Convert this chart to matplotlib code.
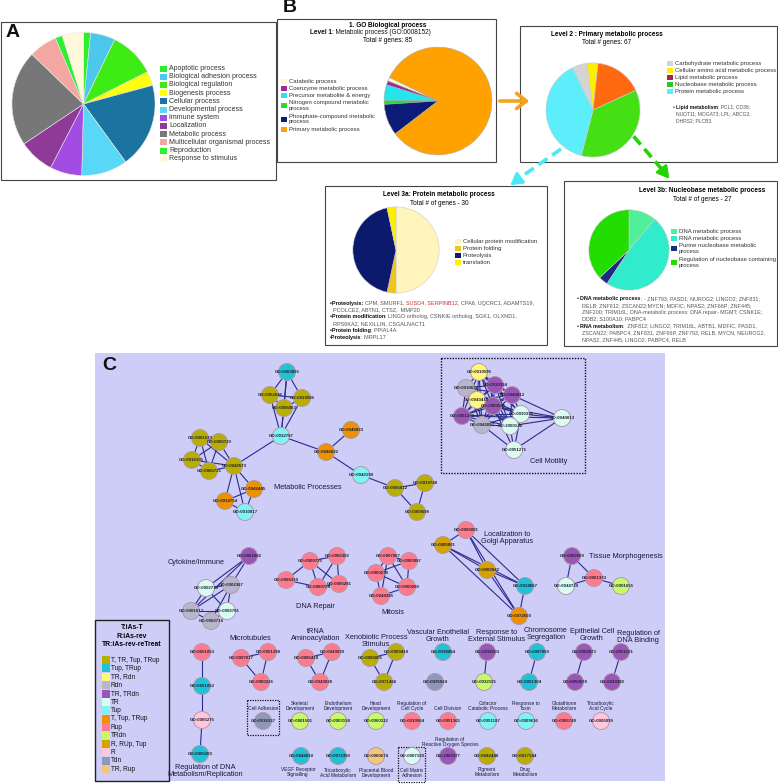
import matplotlib
matplotlib.use("Agg")
import matplotlib.pyplot as plt
from matplotlib.patches import Rectangle

plt.rcParams['font.family'] = ['Liberation Sans', 'DejaVu Sans']

W, H = 778, 784

# ---------------- panel A : GO biological process
bio_labels = ['Apoptotic process', 'Biological adhesion process', 'Biological regulation',
              'Biogenesis process', 'Cellular process', 'Developmental process',
              'Immune system', 'Localization', 'Metabolic process',
              'Multicellular organismal process', 'Reproduction', 'Response to stimulus']
bio_counts = [2, 7, 13, 4, 24, 13, 9, 10, 27, 8, 2, 6]
bio_colors = ['#2cf02c', '#4cc8ec', '#3cec14', '#ffff10', '#1b74a0', '#58d8f6',
              '#a24ce4', '#8e3a96', '#777777', '#f4a7a2', '#2cf02c', '#fff8da']

# ---------------- panel B level 1
lvl1_labels = ['Catabolic process', 'Coenzyme metabolic process', 'Precursor metabolite & energy',
               'Nitrogen compound metabolic\nprocess', 'Phosphate-compound metabolic\nprocess',
               'Primary metabolic process']
lvl1_counts = [1, 1, 4, 1, 8, 70]
lvl1_colors = ['#fff8c8', '#9b2a9b', '#22e6ee', '#22dd33', '#0c1a78', '#ffa200']

# level 2
lvl2_labels = ['Carbohydrate metabolic process', 'Cellular amino acid metabolic process',
               'Lipid metabolic process', 'Nucleobase metabolic process', 'Protein metabolic process']
lvl2_counts = [3.5, 2.5, 11, 24, 26]
lvl2_colors = ['#d4d4d4', '#ffee00', '#ff6a10', '#44e014', '#5ceefa']
lvl2_legend_colors = ['#d4d4d4', '#ffee00', '#aa2244', '#22cc22', '#5ceefa']

# level 3a
lvl3a_labels = ['Cellular protein modification', 'Protein folding', 'Proteolysis', 'translation']
lvl3a_counts = [15, 1, 13, 1]
lvl3a_colors = ['#fff5bc', '#f0c418', '#0c1a6e', '#ffee00']

# level 3b
lvl3b_labels = ['DNA metabolic process', 'RNA metabolic process',
                'Purine nucleobase metabolic\nprocess', 'Regulation of nucleobase containing\nprocess']
lvl3b_counts = [3, 13, 1, 10]
lvl3b_colors = ['#50f09a', '#30eccc', '#1c2a80', '#22dd00']

# ---------------- panel C : network
legend_groups = ['T, TR, Tup, TRup', 'Tup, TRup', 'TR, Rdn', 'Rdn', 'TR, TRdn', 'TR', 'Tup',
                 'T, Tup, TRup', 'Rup', 'TRdn', 'R, RUp, Tup', 'R', 'Tdn', 'TR, Rup']
group_colors = ['#b8ae00', '#1fc2d6', '#fff67a', '#b6b6cc', '#9a55b8', '#d8fcf4', '#80f4f4',
                '#ec9100', '#ff7a8c', '#c6fa6a', '#d6a200', '#ffc6dc', '#8e98b8', '#f2c67e']

# (GO id, layout x, layout y, group)
nodes_metabolic = [
    ('GO:0003896', 287, 372, 1), ('GO:0052646', 270, 395, 0), ('GO:0019585', 302, 398, 0),
    ('GO:0006063', 284, 408, 0), ('GO:0032787', 281, 436, 6), ('GO:0045833', 351, 430, 7),
    ('GO:0046822', 326, 452, 7), ('GO:0042180', 361, 475, 6), ('GO:0006812', 395, 488, 0),
    ('GO:0019748', 425, 483, 0), ('GO:0009698', 417, 512, 0), ('GO:0001523', 200, 438, 0),
    ('GO:0006720', 219, 442, 0), ('GO:0016101', 192, 460, 0), ('GO:0006721', 209, 471, 0),
    ('GO:0042573', 234, 466, 0), ('GO:0042445', 254, 489, 7), ('GO:0034754', 225, 501, 7),
    ('GO:0010817', 245, 512, 6)]
nodes_motility = [
    ('GO:0010595', 479, 372, 2), ('GO:0010632', 466, 388, 3), ('GO:0030334', 495, 385, 4),
    ('GO:0040012', 512, 395, 4), ('GO:0043410', 477, 400, 2), ('GO:2000145', 493, 406, 4),
    ('GO:0030336', 521, 414, 5), ('GO:0040013', 562, 418, 5), ('GO:0051270', 462, 416, 4),
    ('GO:0043087', 482, 425, 3), ('GO:2000146', 510, 426, 5), ('GO:0051271', 514, 450, 5)]
nodes_other = [
    ('GO:0061082', 249, 556, 4), ('GO:0002367', 231, 585, 3), ('GO:0002719', 206, 588, 5),
    ('GO:0001817', 191, 611, 3), ('GO:0002701', 227, 611, 5), ('GO:0002718', 211, 621, 3),
    ('GO:0000725', 310, 561, 8), ('GO:0006302', 337, 556, 8), ('GO:0006310', 286, 580, 8),
    ('GO:0000724', 318, 587, 8), ('GO:0006281', 339, 584, 8),
    ('GO:0007067', 388, 556, 8), ('GO:0000087', 409, 561, 8), ('GO:0000278', 376, 573, 8),
    ('GO:0000280', 407, 587, 8), ('GO:0048285', 381, 596, 8),
    ('GO:0006891', 466, 530, 8), ('GO:0005801', 443, 545, 10), ('GO:0000042', 487, 570, 10),
    ('GO:0034067', 525, 586, 1), ('GO:0072600', 519, 616, 7),
    ('GO:0002009', 572, 556, 4), ('GO:0061333', 594, 578, 8), ('GO:0048729', 566, 586, 5),
    ('GO:0001655', 621, 586, 9),
    ('GO:0051053', 202, 652, 8), ('GO:0051052', 202, 686, 1), ('GO:0006275', 202, 720, 11),
    ('GO:0006260', 200, 754, 1),
    ('GO:0007017', 241, 658, 8), ('GO:0051298', 268, 652, 8), ('GO:0000226', 261, 682, 8),
    ('GO:0006418', 306, 658, 8), ('GO:0043039', 332, 652, 8), ('GO:0043038', 320, 682, 8),
    ('GO:0006805', 370, 658, 0), ('GO:0009410', 396, 652, 0), ('GO:0071466', 384, 682, 0),
    ('GO:0038084', 443, 652, 1), ('GO:0035924', 435, 682, 12),
    ('GO:0032103', 487, 652, 4), ('GO:0032101', 484, 682, 9),
    ('GO:0007059', 537, 652, 1), ('GO:0051304', 529, 682, 1),
    ('GO:0050673', 584, 652, 4), ('GO:0050678', 575, 682, 4),
    ('GO:0051101', 621, 652, 4), ('GO:0043392', 612, 682, 4),
    ('GO:0016337', 263, 721, 12), ('GO:0001501', 300, 721, 9), ('GO:0003158', 338, 721, 9),
    ('GO:0060322', 376, 721, 9), ('GO:0010564', 412, 721, 8), ('GO:0051301', 448, 721, 8),
    ('GO:0051187', 488, 721, 6), ('GO:0009636', 526, 721, 6), ('GO:0006749', 564, 721, 8),
    ('GO:0006099', 601, 721, 11),
    ('GO:0048010', 301, 756, 1), ('GO:0072350', 338, 756, 1), ('GO:0060674', 376, 756, 13),
    ('GO:0007160', 412, 756, 5), ('GO:2000377', 448, 756, 4), ('GO:0042440', 487, 756, 0),
    ('GO:0017144', 525, 756, 0)]

edges_metabolic = [
    ('GO:0003896', 'GO:0052646'), ('GO:0003896', 'GO:0019585'), ('GO:0003896', 'GO:0006063'),
    ('GO:0003896', 'GO:0032787'), ('GO:0052646', 'GO:0019585'), ('GO:0052646', 'GO:0006063'),
    ('GO:0019585', 'GO:0006063'), ('GO:0052646', 'GO:0032787'), ('GO:0019585', 'GO:0032787'),
    ('GO:0006063', 'GO:0032787'), ('GO:0032787', 'GO:0042573'), ('GO:0032787', 'GO:0046822'),
    ('GO:0046822', 'GO:0045833'), ('GO:0046822', 'GO:0042180'), ('GO:0042180', 'GO:0006812'),
    ('GO:0006812', 'GO:0019748'), ('GO:0006812', 'GO:0009698'), ('GO:0019748', 'GO:0009698'),
    ('GO:0001523', 'GO:0006720'), ('GO:0001523', 'GO:0016101'), ('GO:0001523', 'GO:0006721'),
    ('GO:0001523', 'GO:0042573'), ('GO:0006720', 'GO:0016101'), ('GO:0006720', 'GO:0006721'),
    ('GO:0006720', 'GO:0042573'), ('GO:0016101', 'GO:0006721'), ('GO:0016101', 'GO:0042573'),
    ('GO:0006721', 'GO:0042573'), ('GO:0042573', 'GO:0042445'), ('GO:0042573', 'GO:0034754'),
    ('GO:0042573', 'GO:0010817'), ('GO:0042445', 'GO:0034754'), ('GO:0042445', 'GO:0010817'),
    ('GO:0034754', 'GO:0010817')]
motility_core = ['GO:0010595', 'GO:0010632', 'GO:0030334', 'GO:0040012', 'GO:0043410',
                 'GO:2000145', 'GO:0030336', 'GO:0051270', 'GO:0043087', 'GO:2000146']
edges_motility = [(a, b) for i, a in enumerate(motility_core) for b in motility_core[i + 1:]]
edges_motility += [('GO:0040013', n) for n in ['GO:0040012', 'GO:0030336', 'GO:2000146',
                                              'GO:0051270', 'GO:0051271', 'GO:2000145']]
edges_motility += [('GO:0051271', n) for n in ['GO:2000146', 'GO:0030336', 'GO:0043087',
                                              'GO:2000145']]
edges_other = [
    ('GO:0061082', 'GO:0002367'), ('GO:0061082', 'GO:0001817'), ('GO:0061082', 'GO:0002719'),
    ('GO:0002367', 'GO:0002719'), ('GO:0002367', 'GO:0001817'), ('GO:0002367', 'GO:0002701'),
    ('GO:0002367', 'GO:0002718'), ('GO:0002719', 'GO:0001817'), ('GO:0002719', 'GO:0002701'),
    ('GO:0001817', 'GO:0002701'), ('GO:0001817', 'GO:0002718'), ('GO:0002701', 'GO:0002718'),
    ('GO:0000725', 'GO:0006302'), ('GO:0000725', 'GO:0006310'), ('GO:0000725', 'GO:0000724'),
    ('GO:0000725', 'GO:0006281'), ('GO:0006302', 'GO:0006281'), ('GO:0006302', 'GO:0000724'),
    ('GO:0006310', 'GO:0000724'), ('GO:0000724', 'GO:0006281'),
    ('GO:0007067', 'GO:0000087'), ('GO:0007067', 'GO:0000278'), ('GO:0007067', 'GO:0000280'),
    ('GO:0007067', 'GO:0048285'), ('GO:0000087', 'GO:0000278'), ('GO:0000087', 'GO:0000280'),
    ('GO:0000278', 'GO:0048285'), ('GO:0000280', 'GO:0048285'), ('GO:0000278', 'GO:0000280'),
    ('GO:0006891', 'GO:0005801'), ('GO:0006891', 'GO:0000042'), ('GO:0006891', 'GO:0072600'),
    ('GO:0005801', 'GO:0000042'), ('GO:0005801', 'GO:0034067'), ('GO:0005801', 'GO:0072600'),
    ('GO:0000042', 'GO:0034067'), ('GO:0000042', 'GO:0072600'), ('GO:0034067', 'GO:0072600'),
    ('GO:0006891', 'GO:0034067'),
    ('GO:0002009', 'GO:0061333'), ('GO:0002009', 'GO:0048729'), ('GO:0061333', 'GO:0048729'),
    ('GO:0061333', 'GO:0001655'),
    ('GO:0051053', 'GO:0051052'), ('GO:0051052', 'GO:0006275'), ('GO:0006275', 'GO:0006260'),
    ('GO:0007017', 'GO:0051298'), ('GO:0007017', 'GO:0000226'), ('GO:0051298', 'GO:0000226'),
    ('GO:0006418', 'GO:0043039'), ('GO:0006418', 'GO:0043038'), ('GO:0043039', 'GO:0043038'),
    ('GO:0006805', 'GO:0009410'), ('GO:0006805', 'GO:0071466'), ('GO:0009410', 'GO:0071466'),
    ('GO:0032103', 'GO:0032101'), ('GO:0007059', 'GO:0051304'),
    ('GO:0050673', 'GO:0050678'), ('GO:0051101', 'GO:0043392')]

cluster_labels = [
    ('Metabolic Processes', 308, 487), ('Cell Motility', 549, 461),
    ('Cytokine/Immune', 196, 563), ('DNA Repair', 315, 606), ('Mitosis', 393, 612),
    ('Localization to\nGolgi Apparatus', 507, 538), ('Tissue Morphogenesis', 626, 557),
    ('Microtubules', 250, 639), ('tRNA\nAminoacylation', 316, 635),
    ('Xenobiotic Process\nStimulus', 376, 641), ('Vascular Enothelial\nGrowth', 438, 636),
    ('Response to\nExternal Stimulus', 497, 636), ('Chromosome\nSegregation', 546, 634),
    ('Epithelial Cell\nGrowth', 592, 635), ('Regulation of\nDNA Binding', 638, 637),
    ('Regulation of DNA\nMetabolism/Replication', 205, 771)]
small_labels = [
    ('Cell Adhesion', 263, 708), ('Skeletal\nDevelopment', 300, 706),
    ('Endothelium\nDevelopment', 338, 706), ('Head\nDevelopment', 376, 706),
    ('Regulation of\nCell Cycle', 412, 706), ('Cell Division', 448, 708),
    ('Cofactor\nCatabolic Process', 488, 706), ('Response to\nToxin', 526, 706),
    ('Glutathione\nMetabolism', 564, 706), ('Tricarboxylic\nAcid Cycle', 601, 706),
    ('Regulation of\nReactive Oxygen Species', 450, 742),
    ('VEGF Receptor\nSignalling', 298, 772), ('Tricarboxylic\nAcid Metabolism', 338, 773),
    ('Placental Blood\nDevelopment', 376, 773), ('Cell Matrix\nAdhesion', 412, 773),
    ('Pigment\nMetabolism', 487, 772), ('Drug\nMetabolism', 525, 772)]

fig = plt.figure(figsize=(W / 100, H / 100), dpi=100)
ax = fig.add_axes([0, 0, 1, 1])
ax.set_xlim(0, W)
ax.set_ylim(H, 0)
ax.axis('off')


def box(x0, y0, x1, y1, fc='white', ec='#444444', lw=0.8, ls='-', z=1):
    ax.add_patch(Rectangle((x0, y0), x1 - x0, y1 - y0, facecolor=fc, edgecolor=ec,
                           linewidth=lw, linestyle=ls, zorder=z))


def pie_at(cx, cy, r, values, colors, start, ccw, ec='#bbbbbb'):
    pa = fig.add_axes([(cx - r) / W, 1 - (cy + r) / H, 2 * r / W, 2 * r / H])
    pa.pie(values, colors=colors, startangle=start, counterclock=ccw,
           wedgeprops=dict(edgecolor=ec, linewidth=0.4))
    pa.set_xlim(-1.02, 1.02)
    pa.set_ylim(-1.02, 1.02)
    pa.axis('off')


def legend_list(x, ys, labels, colors, fs, size=6):
    for y, lab, c in zip(ys, labels, colors):
        ax.add_patch(Rectangle((x, y - size / 2), size + 1, size, facecolor=c,
                               edgecolor='none', zorder=3))
        ax.text(x + size + 3, y, lab, fontsize=fs, va='center', ha='left', color='#333333',
                linespacing=1.1, zorder=3)


renderer = fig.canvas.get_renderer()


def rich(x, y, parts, fs):
    for txt, bold, col in parts:
        t = ax.text(x, y, txt, fontsize=fs, va='center', ha='left', color=col,
                    fontweight='bold' if bold else 'normal', zorder=3)
        x += t.get_window_extent(renderer).width


# ---------- panel A
box(1.5, 21.5, 276.5, 180)
ax.text(6, 32, 'A', fontsize=14, fontweight='bold', va='center', color='#111111')
pie_at(83.5, 104, 73, bio_counts, bio_colors, 90, False, ec='#e8e8e8')
legend_list(160, [68.5 + 8.2 * i for i in range(12)], bio_labels, bio_colors, 5.0, size=6)

# ---------- panel B
ax.text(283, 7, 'B', fontsize=14, fontweight='bold', va='center', color='#111111')
box(277, 19, 496, 162)
ax.text(388, 25, '1. GO Biological process', fontsize=4.7, fontweight='bold', ha='center', va='center')
rich(310, 32.5, [('Level 1', True, '#111111'), (': Metabolic process (GO:0008152)', False, '#111111')], 4.7)
ax.text(388, 40, 'Total # genes: 85', fontsize=4.7, ha='center', va='center')
pie_at(438, 101, 55, lvl1_counts, lvl1_colors, 154, True, ec='#aaaaaa')
legend_list(281, [81, 88, 95, 105.5, 119, 129.5], lvl1_labels, lvl1_colors, 4.3, size=5)

box(520, 26, 777, 162)
ax.text(607, 34, 'Level 2 : Primary metabolic process', fontsize=4.7, fontweight='bold', ha='center', va='center')
ax.text(607, 42, 'Total # genes: 67', fontsize=4.7, ha='center', va='center')
pie_at(593, 110, 48, lvl2_counts, lvl2_colors, 116, False, ec='#cccccc')
legend_list(667, [63.5, 70.5, 77.5, 84.5, 91.5], lvl2_labels, lvl2_legend_colors, 4.3, size=5)
rich(673, 107, [('\u2022 ', False, '#000066'), ('Lipid metabolism', True, '#111111'),
                (': PCL1; CD36;', False, '#555555')], 3.6)
ax.text(676, 114, 'NUDT11; MOGAT3; LPL; ABCG2;', fontsize=3.6, color='#555555', va='center')
ax.text(676, 121, 'DHRS2; PLCB3.', fontsize=3.6, color='#555555', va='center')

box(325, 186, 547, 345)
ax.text(439, 194, 'Level 3a: Protein metabolic process', fontsize=4.7, fontweight='bold', ha='center', va='center')
ax.text(439, 203, 'Total # of genes - 30', fontsize=4.7, ha='center', va='center')
pie_at(396, 250, 44, lvl3a_counts, lvl3a_colors, 90, False, ec='#cccccc')
legend_list(455, [241, 248, 255, 262], lvl3a_labels, lvl3a_colors, 4.3, size=5)
g = '#555555'
rich(330, 303, [('\u2022Proteolysis: ', True, '#111111'), ('CPM, SMURF1, ', False, g),
                ('SUSD4, SERPINB12', False, '#d03030'),
                (', CPA6, UQCRC1, ADAMTS19,', False, g)], 4.0)
ax.text(333, 309.5, 'PCOLCE2, ABTN1, CTSZ,  MMP20', fontsize=4.0, color=g, va='center')
rich(330, 316.5, [('\u2022Protein modification', True, '#111111'),
                  (': LINGO ortholog, CSNKIE ortholog, SGK1, OLXND1,', False, g)], 4.0)
ax.text(333, 323.5, 'RPS6KA2, NEXILLIN, CSGALNACT1', fontsize=4.0, color=g, va='center')
rich(330, 330.5, [('\u2022Protein folding', True, '#111111'), (': PPIAL4A', False, g)], 4.0)
rich(330, 337.5, [('\u2022Proteolysis', True, '#111111'), (': MRPL17', False, g)], 4.0)

box(564, 181, 777, 346)
ax.text(702, 190, 'Level 3b: Nucleobase metabolic process', fontsize=4.7, fontweight='bold', ha='center', va='center')
ax.text(702, 199, 'Total # of genes - 27', fontsize=4.7, ha='center', va='center')
pie_at(629, 250, 41, lvl3b_counts, lvl3b_colors, 90, False, ec='#cccccc')
legend_list(671, [231.5, 238.5, 248.5, 262.5], lvl3b_labels, lvl3b_colors, 4.3, size=5)
rich(577, 298.5, [('\u2022 ', False, '#000066'), ('DNA metabolic process', True, '#111111'),
                  (': - ZNF793; PASD1; NUROG2; LINGO2; ZNF831;', False, g)], 3.9)
for yy, line in zip([305.5, 312.5, 319], ['RELB; ZNF812; ZSCAN22;MYCN; MDFIC; NPAS2; ZNF66P; ZNF445;',
                                         'ZNF200; TRIM16L; DNA-metabolic process: DNA repair- MGMT; CSNK1E;',
                                         'DDB2; S100A10; PABPC4']):
    ax.text(582, yy, line, fontsize=3.9, color=g, va='center')
rich(577, 326, [('\u2022 ', False, '#000066'), ('RNA metabolism', True, '#111111'),
                (':  ZNF812; LINGO2; TRIM16L, ABTB1, MDFIC, PASD1,', False, g)], 3.9)
for yy, line in zip([332.5, 339.5], ['ZSCAN22; PABPC4, ZNF831, ZNF66P, ZNF793, RELB, MYCN, NEUROG2,',
                                    'NPAS2, ZNF445, LINGO2, PABPC4, RELB']):
    ax.text(582, yy, line, fontsize=3.9, color=g, va='center')

# arrows between levels
ax.annotate('', xy=(532, 101), xytext=(497, 101),
            arrowprops=dict(arrowstyle='->,head_length=0.7,head_width=0.55', color='#f7a21b', lw=2.6))
ax.plot([561, 514], [149, 182], color='#4ce8f4', lw=2.6, ls=(0, (3, 1.6)), zorder=4)
ax.annotate('', xy=(508, 187), xytext=(516, 181),
            arrowprops=dict(arrowstyle='-|>,head_length=0.7,head_width=0.4', color='#4ce8f4', lw=2))
ax.plot([612, 665], [111, 173], color='#22d400', lw=2.6, ls=(0, (3, 1.6)), zorder=4)
ax.annotate('', xy=(671, 181), xytext=(664, 172),
            arrowprops=dict(arrowstyle='-|>,head_length=0.7,head_width=0.4', color='#22d400', lw=2))

# ---------- panel C
box(95, 353, 665, 781, fc='#cdcdf8', ec='none', lw=0, z=0)
ax.text(102, 365, 'C', fontsize=14, fontweight='bold', va='center', color='#111111')
box(441, 358, 585, 473, fc='none', ec='#111111', lw=1.0, ls=(0, (1, 1)), z=1)
box(247, 700, 279, 735, fc='none', ec='#111111', lw=0.9, ls=(0, (1, 1)), z=1)
box(398, 747, 425, 782, fc='none', ec='#111111', lw=0.9, ls=(0, (1, 1)), z=1)

all_nodes = nodes_metabolic + nodes_motility + nodes_other
pos = {n[0]: (n[1], n[2]) for n in all_nodes}
for a, b in edges_metabolic + edges_motility + edges_other:
    ax.plot([pos[a][0], pos[b][0]], [pos[a][1], pos[b][1]], color='#2b2b8c', lw=0.8, zorder=2)
ax.scatter([n[1] for n in all_nodes], [n[2] for n in all_nodes],
           c=[group_colors[n[3]] for n in all_nodes], s=150, edgecolors='#b49aa8',
           linewidths=0.7, zorder=3)
for gid, x, y, grp in all_nodes:
    ax.text(x, y, gid, fontsize=3.2, fontweight='bold', ha='center', va='center',
            color='#222233', zorder=4)

for txt, x, y in cluster_labels:
    ax.text(x, y, txt, fontsize=5.3, ha='center', va='center', color='#1a1a3a',
            linespacing=1.15, zorder=4)
for txt, x, y in small_labels:
    ax.text(x, y, txt, fontsize=3.5, ha='center', va='center', color='#1a1a3a',
            linespacing=1.2, zorder=4)

# legend box
box(95, 620, 169, 781, fc='#cdcdf8', ec='#222222', lw=1.0, z=3)
ax.text(132, 636, 'T:iAs-T\nR:iAs-rev\nTR:iAs-rev-reTreat', fontsize=4.9, fontweight='bold',
        ha='center', va='center', linespacing=1.35, zorder=4)
for i, (lab, c) in enumerate(zip(legend_groups, group_colors)):
    yy = 660 + 8.4 * i
    ax.add_patch(Rectangle((102, yy - 4), 8, 8, facecolor=c, edgecolor='none', zorder=4))
    ax.text(111, yy, lab, fontsize=4.7, va='center', ha='left', color='#111111', zorder=4)

fig.savefig('out.png', dpi=100)
